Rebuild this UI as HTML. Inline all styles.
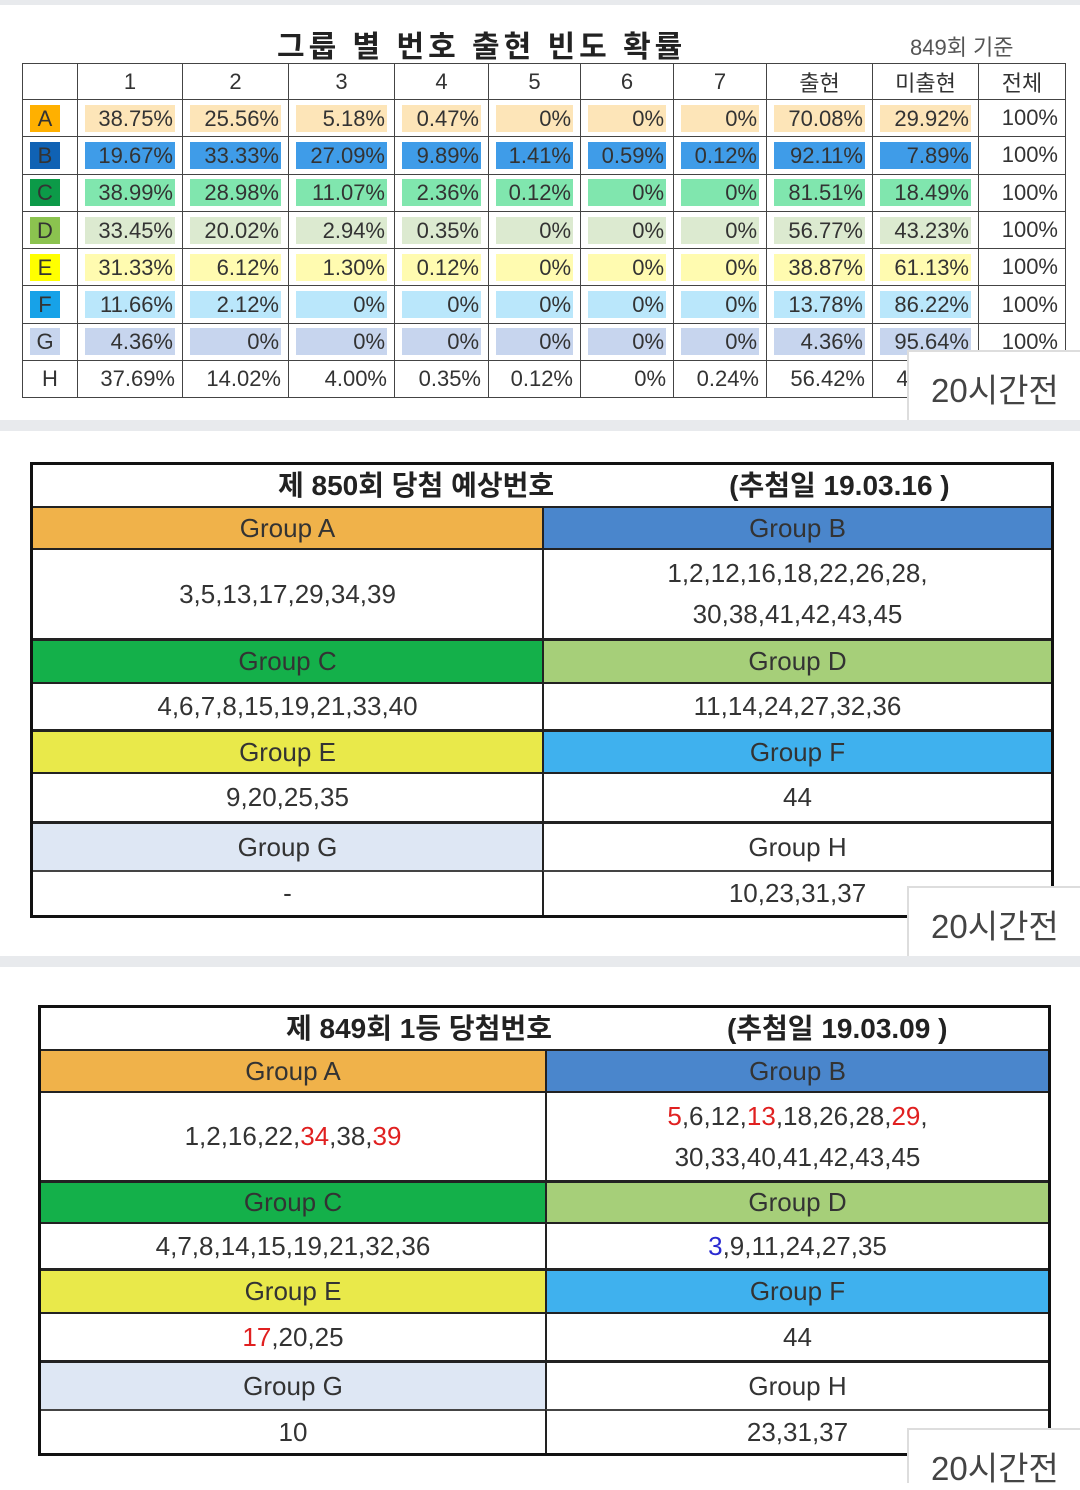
<!DOCTYPE html>
<html><head><meta charset="utf-8">
<style>
*{margin:0;padding:0;box-sizing:border-box}
body{width:1080px;height:1483px;background:#fff;position:relative;overflow:hidden;font-family:"Liberation Sans","Noto Sans CJK KR",sans-serif;color:#333}
.band{position:absolute;left:0;width:1080px;background:#e8eaed}
.abs{position:absolute}
table.t1{position:absolute;left:22px;top:63px;width:1043px;border-collapse:collapse;table-layout:fixed;font-size:22px}
.t1 td{border:1.5px solid #444;height:37.3px;text-align:right;padding:0 7px;position:relative;color:#333}
.t1 tr:first-child td{height:36px;text-align:center}
.t1 td.c{text-align:center}
.t1 td span{display:block;padding:0 2px;line-height:27px}
.lab{display:inline-block;width:30px;height:27px;line-height:27px;text-align:center}
.cell{position:absolute;display:flex;align-items:center;justify-content:center;font-size:26px;color:#333;text-align:center;line-height:41px}
.ov{position:absolute;left:907px;width:173px;background:#fff;border-left:2px solid #ddd;border-top:2px solid #ddd;font-size:33px;color:#444;padding-left:22px}
</style></head><body>
<div class="band" style="top:0;height:5px"></div>
<div class="band" style="top:420px;height:11px"></div>
<div class="band" style="top:956px;height:11px"></div>

<div class="abs" style="left:277px;top:22px;font-size:30px;font-weight:bold;color:#222;letter-spacing:4px">그룹 별 번호 출현 빈도 확률</div>
<div class="abs" style="left:910px;top:30px;font-size:22px;color:#555">849회 기준</div>

<table class="t1">
<colgroup><col style="width:55px"><col style="width:105px"><col style="width:106px"><col style="width:106px"><col style="width:94px"><col style="width:92px"><col style="width:93px"><col style="width:93px"><col style="width:106px"><col style="width:106px"><col style="width:87px"></colgroup>
<tr><td></td><td>1</td><td>2</td><td>3</td><td>4</td><td>5</td><td>6</td><td>7</td><td>출현</td><td>미출현</td><td>전체</td></tr>
<tr><td class="c"><span class="lab" style="background:#ffb000">A</span></td><td><span style="background:#fde5b8">38.75%</span></td><td><span style="background:#fde5b8">25.56%</span></td><td><span style="background:#fde5b8">5.18%</span></td><td><span style="background:#fde5b8">0.47%</span></td><td><span style="background:#fde5b8">0%</span></td><td><span style="background:#fde5b8">0%</span></td><td><span style="background:#fde5b8">0%</span></td><td><span style="background:#fde5b8">70.08%</span></td><td><span style="background:#fde5b8">29.92%</span></td><td>100%</td></tr>
<tr><td class="c"><span class="lab" style="background:#1062b4">B</span></td><td><span style="background:#3f9ce8">19.67%</span></td><td><span style="background:#3f9ce8">33.33%</span></td><td><span style="background:#3f9ce8">27.09%</span></td><td><span style="background:#3f9ce8">9.89%</span></td><td><span style="background:#3f9ce8">1.41%</span></td><td><span style="background:#3f9ce8">0.59%</span></td><td><span style="background:#3f9ce8">0.12%</span></td><td><span style="background:#3f9ce8">92.11%</span></td><td><span style="background:#3f9ce8">7.89%</span></td><td>100%</td></tr>
<tr><td class="c"><span class="lab" style="background:#0c9a48">C</span></td><td><span style="background:#80e6ae">38.99%</span></td><td><span style="background:#80e6ae">28.98%</span></td><td><span style="background:#80e6ae">11.07%</span></td><td><span style="background:#80e6ae">2.36%</span></td><td><span style="background:#80e6ae">0.12%</span></td><td><span style="background:#80e6ae">0%</span></td><td><span style="background:#80e6ae">0%</span></td><td><span style="background:#80e6ae">81.51%</span></td><td><span style="background:#80e6ae">18.49%</span></td><td>100%</td></tr>
<tr><td class="c"><span class="lab" style="background:#8bc34f">D</span></td><td><span style="background:#dcead0">33.45%</span></td><td><span style="background:#dcead0">20.02%</span></td><td><span style="background:#dcead0">2.94%</span></td><td><span style="background:#dcead0">0.35%</span></td><td><span style="background:#dcead0">0%</span></td><td><span style="background:#dcead0">0%</span></td><td><span style="background:#dcead0">0%</span></td><td><span style="background:#dcead0">56.77%</span></td><td><span style="background:#dcead0">43.23%</span></td><td>100%</td></tr>
<tr><td class="c"><span class="lab" style="background:#ffff00">E</span></td><td><span style="background:#fffbb0">31.33%</span></td><td><span style="background:#fffbb0">6.12%</span></td><td><span style="background:#fffbb0">1.30%</span></td><td><span style="background:#fffbb0">0.12%</span></td><td><span style="background:#fffbb0">0%</span></td><td><span style="background:#fffbb0">0%</span></td><td><span style="background:#fffbb0">0%</span></td><td><span style="background:#fffbb0">38.87%</span></td><td><span style="background:#fffbb0">61.13%</span></td><td>100%</td></tr>
<tr><td class="c"><span class="lab" style="background:#17a2e8">F</span></td><td><span style="background:#bae7fb">11.66%</span></td><td><span style="background:#bae7fb">2.12%</span></td><td><span style="background:#bae7fb">0%</span></td><td><span style="background:#bae7fb">0%</span></td><td><span style="background:#bae7fb">0%</span></td><td><span style="background:#bae7fb">0%</span></td><td><span style="background:#bae7fb">0%</span></td><td><span style="background:#bae7fb">13.78%</span></td><td><span style="background:#bae7fb">86.22%</span></td><td>100%</td></tr>
<tr><td class="c"><span class="lab" style="background:#c7d5ee">G</span></td><td><span style="background:#c7d5ee">4.36%</span></td><td><span style="background:#c7d5ee">0%</span></td><td><span style="background:#c7d5ee">0%</span></td><td><span style="background:#c7d5ee">0%</span></td><td><span style="background:#c7d5ee">0%</span></td><td><span style="background:#c7d5ee">0%</span></td><td><span style="background:#c7d5ee">0%</span></td><td><span style="background:#c7d5ee">4.36%</span></td><td><span style="background:#c7d5ee">95.64%</span></td><td>100%</td></tr>
<tr><td class="c">H</td><td>37.69%</td><td>14.02%</td><td>4.00%</td><td>0.35%</td><td>0.12%</td><td>0%</td><td>0.24%</td><td>56.42%</td><td>43.58%</td><td>100%</td></tr>
</table>
<div class="ov" style="top:350px;height:70px;padding-top:12px">20시간전</div>

<!-- Panel 2 -->
<div class="abs" style="left:30px;top:462px;width:1024px;height:456px;border:3px solid #111"></div>
<div class="cell" style="left:33px;top:465px;width:1018px;height:41px;font-weight:bold;font-size:28px;justify-content:flex-start;padding-left:245px;color:#222">제 850회 당첨 예상번호<span style="margin-left:175px">(추첨일 19.03.16 )</span></div>
<div class="cell" style="left:33px;top:506px;width:509px;height:42px;background:#f0b24a;border-top:2px solid #222">Group A</div>
<div class="cell" style="left:542px;top:506px;width:509px;height:42px;background:#4a86cc;border-top:2px solid #222;border-left:2px solid #222">Group B</div>
<div class="cell" style="left:33px;top:548px;width:509px;height:90px;border-top:2px solid #222">3,5,13,17,29,34,39</div>
<div class="cell" style="left:542px;top:548px;width:509px;height:90px;border-top:2px solid #222;border-left:2px solid #222">1,2,12,16,18,22,26,28,<br>30,38,41,42,43,45</div>
<div class="cell" style="left:33px;top:638px;width:509px;height:44px;background:#14b04a;border-top:3px solid #222">Group C</div>
<div class="cell" style="left:542px;top:638px;width:509px;height:44px;background:#a6cf79;border-top:3px solid #222;border-left:2px solid #222">Group D</div>
<div class="cell" style="left:33px;top:682px;width:509px;height:47px;border-top:2px solid #222">4,6,7,8,15,19,21,33,40</div>
<div class="cell" style="left:542px;top:682px;width:509px;height:47px;border-top:2px solid #222;border-left:2px solid #222">11,14,24,27,32,36</div>
<div class="cell" style="left:33px;top:729px;width:509px;height:43px;background:#e9e94a;border-top:3px solid #222">Group E</div>
<div class="cell" style="left:542px;top:729px;width:509px;height:43px;background:#3fb1ee;border-top:3px solid #222;border-left:2px solid #222">Group F</div>
<div class="cell" style="left:33px;top:772px;width:509px;height:49px;border-top:2px solid #222">9,20,25,35</div>
<div class="cell" style="left:542px;top:772px;width:509px;height:49px;border-top:2px solid #222;border-left:2px solid #222">44</div>
<div class="cell" style="left:33px;top:821px;width:509px;height:49px;background:#dee7f4;border-top:3px solid #222">Group G</div>
<div class="cell" style="left:542px;top:821px;width:509px;height:49px;border-top:3px solid #222;border-left:2px solid #222">Group H</div>
<div class="cell" style="left:33px;top:870px;width:509px;height:45px;border-top:2px solid #444">-</div>
<div class="cell" style="left:542px;top:870px;width:509px;height:45px;border-top:2px solid #444;border-left:2px solid #222">10,23,31,37</div>
<div class="ov" style="top:886px;height:70px;padding-top:12px">20시간전</div>

<!-- Panel 3 -->
<div class="abs" style="left:38px;top:1005px;width:1013px;height:451px;border:3px solid #111"></div>
<div class="cell" style="left:41px;top:1008px;width:1007px;height:41px;font-weight:bold;font-size:28px;justify-content:flex-start;padding-left:245px;color:#222">제 849회 1등 당첨번호<span style="margin-left:175px">(추첨일 19.03.09 )</span></div>
<div class="cell" style="left:41px;top:1049px;width:504px;height:42px;background:#f0b24a;border-top:2px solid #222">Group A</div>
<div class="cell" style="left:545px;top:1049px;width:503px;height:42px;background:#4a86cc;border-top:2px solid #222;border-left:2px solid #222">Group B</div>
<div class="cell" style="left:41px;top:1091px;width:504px;height:89px;border-top:2px solid #222">1,2,16,22,<span style="color:#e02020">34</span>,38,<span style="color:#e02020">39</span></div>
<div class="cell" style="left:545px;top:1091px;width:503px;height:89px;border-top:2px solid #222;border-left:2px solid #222"><span><span style="color:#e02020">5</span>,6,12,<span style="color:#e02020">13</span>,18,26,28,<span style="color:#e02020">29</span>,<br>30,33,40,41,42,43,45</span></div>
<div class="cell" style="left:41px;top:1180px;width:504px;height:42px;background:#14b04a;border-top:3px solid #222">Group C</div>
<div class="cell" style="left:545px;top:1180px;width:503px;height:42px;background:#a6cf79;border-top:3px solid #222;border-left:2px solid #222">Group D</div>
<div class="cell" style="left:41px;top:1222px;width:504px;height:46px;border-top:2px solid #222">4,7,8,14,15,19,21,32,36</div>
<div class="cell" style="left:545px;top:1222px;width:503px;height:46px;border-top:2px solid #222;border-left:2px solid #222"><span><span style="color:#2a2ad0">3</span>,9,11,24,27,35</span></div>
<div class="cell" style="left:41px;top:1268px;width:504px;height:44px;background:#e9e94a;border-top:3px solid #222">Group E</div>
<div class="cell" style="left:545px;top:1268px;width:503px;height:44px;background:#3fb1ee;border-top:3px solid #222;border-left:2px solid #222">Group F</div>
<div class="cell" style="left:41px;top:1312px;width:504px;height:48px;border-top:2px solid #222"><span><span style="color:#e02020">17</span>,20,25</span></div>
<div class="cell" style="left:545px;top:1312px;width:503px;height:48px;border-top:2px solid #222;border-left:2px solid #222">44</div>
<div class="cell" style="left:41px;top:1360px;width:504px;height:49px;background:#dee7f4;border-top:3px solid #222">Group G</div>
<div class="cell" style="left:545px;top:1360px;width:503px;height:49px;border-top:3px solid #222;border-left:2px solid #222">Group H</div>
<div class="cell" style="left:41px;top:1409px;width:504px;height:44px;border-top:2px solid #444">10</div>
<div class="cell" style="left:545px;top:1409px;width:503px;height:44px;border-top:2px solid #444;border-left:2px solid #222">23,31,37</div>
<div class="ov" style="top:1428px;height:55px;padding-top:12px">20시간전</div>
</body></html>
